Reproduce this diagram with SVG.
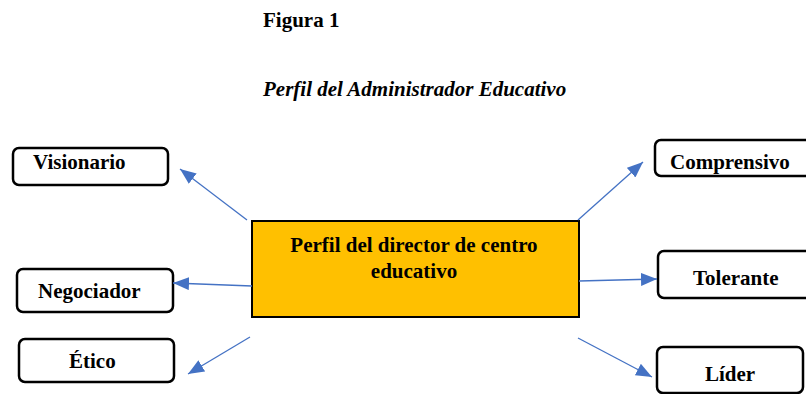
<svg xmlns="http://www.w3.org/2000/svg" width="806" height="394" viewBox="0 0 806 394">
<style>
.t{font-family:"Liberation Serif","Times New Roman",serif;font-weight:bold;fill:#000}
.box{fill:#fff;stroke:#000;stroke-width:2.5}
.main{fill:#FFC000;stroke:#000;stroke-width:2}
.c{stroke:#4472C4;stroke-width:1.3;fill:none;marker-end:url(#ah)}
</style>
<defs>
<marker id="ah" markerUnits="userSpaceOnUse" markerWidth="16" markerHeight="13" refX="16" refY="6.5" orient="auto">
<path d="M0,0 L16,6.5 L0,13 z" fill="#4472C4"/>
</marker>
</defs>
<rect width="806" height="394" fill="#fff"/>
<text class="t" x="263" y="27" font-size="21">Figura 1</text>
<text class="t" x="263" y="96" font-size="21" font-style="italic">Perfil del Administrador Educativo</text>
<g id="center">
<rect class="main" x="252" y="221" width="327" height="96"/>
<text class="t" x="414" y="252" font-size="21" text-anchor="middle">Perfil del director de centro</text>
<text class="t" x="414" y="278" font-size="21" text-anchor="middle">educativo</text>
</g>
<g id="visionario">
<rect class="box" x="13" y="148" width="155" height="37" rx="6"/>
<text class="t" x="33" y="169" font-size="21">Visionario</text>
</g>
<g id="negociador">
<rect class="box" x="17" y="269" width="156" height="43" rx="6"/>
<text class="t" x="38" y="298" font-size="21">Negociador</text>
</g>
<g id="etico">
<rect class="box" x="19" y="339" width="155" height="43" rx="6"/>
<text class="t" x="69" y="368" font-size="21">Ético</text>
</g>
<g id="comprensivo">
<rect class="box" x="655" y="140" width="160" height="36" rx="6"/>
<text class="t" x="670" y="169" font-size="21">Comprensivo</text>
</g>
<g id="tolerante">
<rect class="box" x="658" y="251" width="160" height="47" rx="6"/>
<text class="t" x="693" y="285" font-size="21">Tolerante</text>
</g>
<g id="lider">
<rect class="box" x="657" y="347" width="146" height="46" rx="6"/>
<text class="t" x="705" y="381" font-size="21">Líder</text>
</g>
<g id="connectors">
<line class="c" x1="247" y1="220" x2="180" y2="169"/>
<line class="c" x1="252" y1="286" x2="173" y2="283"/>
<line class="c" x1="250" y1="337" x2="188" y2="374"/>
<line class="c" x1="578" y1="220" x2="643" y2="162"/>
<line class="c" x1="579" y1="281" x2="657" y2="279"/>
<line class="c" x1="578" y1="338" x2="652" y2="377"/>
</g>
</svg>
